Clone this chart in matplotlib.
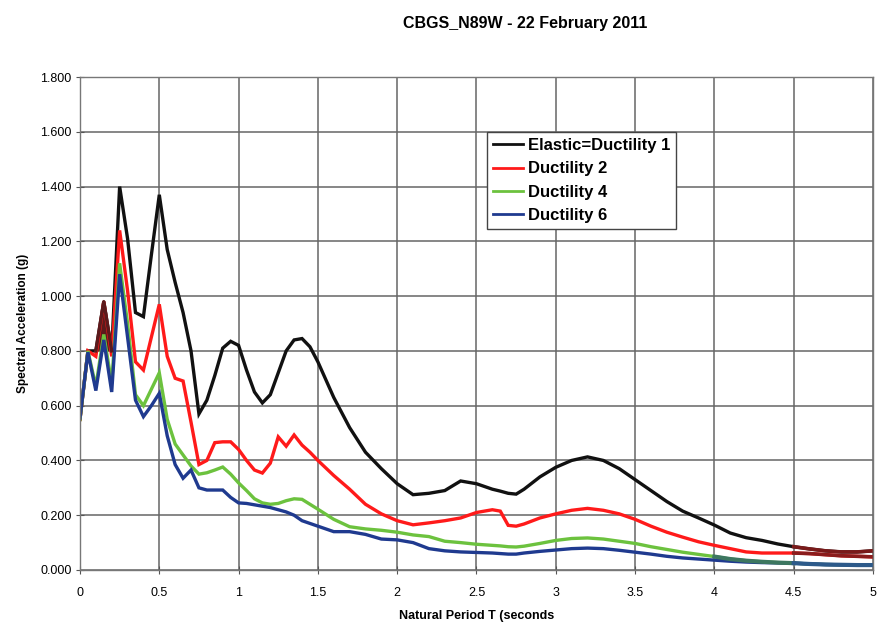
import numpy as np
import matplotlib
matplotlib.use("Agg")
import matplotlib.pyplot as plt
from matplotlib.ticker import FuncFormatter

plt.rcParams["font.family"] = ["Liberation Sans", "DejaVu Sans"]

# natural period (s)
periods = [0.00, 0.05, 0.10, 0.15, 0.20, 0.25, 0.30, 0.35, 0.40, 0.45,
           0.50, 0.55, 0.60, 0.65, 0.70, 0.75, 0.80, 0.85, 0.90, 0.95,
           1.00, 1.05, 1.10, 1.15, 1.20, 1.25, 1.30, 1.35, 1.40, 1.45,
           1.50, 1.6, 1.7, 1.8, 1.9, 2.0, 2.1, 2.2, 2.3, 2.4,
           2.5, 2.6, 2.65, 2.7, 2.75, 2.8, 2.9, 3.0, 3.1, 3.2,
           3.3, 3.4, 3.5, 3.6, 3.7, 3.8, 3.9, 4.0, 4.1, 4.2,
           4.3, 4.4, 4.5, 4.6, 4.7, 4.8, 4.9, 5.0]

# spectral acceleration (g)
elastic = [0.55, 0.80, 0.80, 0.98, 0.80, 1.40, 1.21, 0.94, 0.925, 1.15,
           1.37, 1.17, 1.05, 0.94, 0.80, 0.57, 0.62, 0.71, 0.81, 0.835,
           0.82, 0.73, 0.65, 0.61, 0.64, 0.72, 0.80, 0.84, 0.845, 0.815,
           0.76, 0.63, 0.52, 0.43, 0.37, 0.315, 0.275, 0.28, 0.29, 0.325,
           0.315, 0.295, 0.288, 0.28, 0.277, 0.295, 0.34, 0.375, 0.40, 0.413,
           0.40, 0.37, 0.33, 0.29, 0.25, 0.215, 0.19, 0.164, 0.135, 0.118,
           0.108, 0.095, 0.085, 0.077, 0.070, 0.066, 0.066, 0.070]

ductility2 = [0.55, 0.80, 0.78, 0.98, 0.78, 1.24, 1.02, 0.76, 0.73, 0.85,
              0.97, 0.78, 0.70, 0.69, 0.54, 0.385, 0.40, 0.465, 0.468, 0.468,
              0.44, 0.40, 0.365, 0.354, 0.39, 0.486, 0.452, 0.493, 0.456, 0.43,
              0.40, 0.345, 0.295, 0.24, 0.205, 0.18, 0.165, 0.172, 0.18, 0.19,
              0.21, 0.22, 0.215, 0.163, 0.16, 0.168, 0.19, 0.205, 0.218, 0.225,
              0.218, 0.205, 0.185, 0.16, 0.138, 0.12, 0.103, 0.09, 0.078, 0.066,
              0.062, 0.062, 0.062, 0.060, 0.056, 0.052, 0.050, 0.048]

ductility4 = [0.55, 0.80, 0.67, 0.86, 0.68, 1.12, 0.90, 0.64, 0.60, 0.66,
              0.72, 0.55, 0.46, 0.42, 0.38, 0.35, 0.355, 0.365, 0.376, 0.35,
              0.318, 0.29, 0.26, 0.245, 0.24, 0.243, 0.253, 0.26, 0.258, 0.24,
              0.222, 0.185, 0.158, 0.15, 0.145, 0.138, 0.128, 0.122, 0.105, 0.10,
              0.094, 0.09, 0.088, 0.085, 0.084, 0.087, 0.097, 0.108, 0.115, 0.117,
              0.113, 0.105, 0.097, 0.085, 0.075, 0.065, 0.057, 0.049, 0.040, 0.034,
              0.030, 0.027, 0.025, 0.022, 0.020, 0.019, 0.018, 0.018]

ductility6 = [0.555, 0.795, 0.655, 0.84, 0.65, 1.08, 0.85, 0.62, 0.56, 0.60,
              0.645, 0.49, 0.385, 0.335, 0.365, 0.30, 0.292, 0.292, 0.292, 0.265,
              0.245, 0.243, 0.238, 0.233, 0.228, 0.22, 0.212, 0.20, 0.18, 0.17,
              0.16, 0.14, 0.14, 0.13, 0.113, 0.11, 0.10, 0.078, 0.07, 0.066,
              0.064, 0.062, 0.06, 0.058, 0.058, 0.062, 0.068, 0.073, 0.078, 0.08,
              0.078, 0.072, 0.065, 0.058, 0.05, 0.044, 0.04, 0.036, 0.032, 0.029,
              0.027, 0.026, 0.025, 0.022, 0.020, 0.019, 0.018, 0.018]

T = np.array(periods)
series = [
    ("Elastic=Ductility 1", elastic, "#111111"),
    ("Ductility 2", ductility2, "#ff1a1a"),
    ("Ductility 4", ductility4, "#6cc23e"),
    ("Ductility 6", ductility6, "#1f3a8f"),
]

fig = plt.figure(figsize=(8.78, 6.25), dpi=100)
ax = fig.add_axes([0.0911, 0.088, 0.9032, 0.7888])

for name, vals, col in series:
    ax.plot(T, vals, color=col, lw=2.4, label=name, solid_joinstyle="miter")

# scan-colour artefacts seen on the original printout
el = np.array(elastic)
tail = T >= 4.5
ax.plot(T[tail], el[tail], color="#7a1a1a", lw=2.6)
ax.plot(T[tail], np.array(ductility2)[tail], color="#8a1c1c", lw=2.6)
mid = (T >= 4.0) & (T <= 4.5)
ax.plot(T[mid], np.array(ductility4)[mid], color="#3d7760", lw=3.0)
ax.plot(T[tail], np.array(ductility6)[tail], color="#2d5a8a", lw=3.0)
peak = (T >= 0.1) & (T <= 0.2)
ax.fill_between(T[peak], el[peak].min(), el[peak], color="#5c1a1c", lw=0)
ax.plot(T[peak], el[peak], color="#5c1a1c", lw=2.4)

ax.set_xlim(0, 5)
ax.set_ylim(0, 1.8)
ax.set_xticks(np.arange(0, 5.01, 0.5))
ax.set_yticks(np.arange(0, 1.801, 0.2))
ax.xaxis.set_major_formatter(FuncFormatter(lambda v, p: f"{v:g}"))
ax.yaxis.set_major_formatter(FuncFormatter(lambda v, p: f"{v:.3f}"))
ax.tick_params(direction="inout", length=6, width=0.8, color="#555555",
               labelsize=9, pad=3)
ax.tick_params(axis="x", pad=9)
ax.grid(True, color="#666666", lw=1.1)
ax.set_axisbelow(True)
for sp in ax.spines.values():
    sp.set_color("#777777")
    sp.set_linewidth(1.0)

ax.set_xlabel("Natural Period T (seconds", fontsize=9, fontweight="bold", labelpad=8)
ax.set_ylabel("Spectral Acceleration (g)", fontsize=8.5, fontweight="bold", labelpad=8)
fig.text(0.598, 0.963, "CBGS_N89W - 22 February 2011", ha="center", va="center",
         fontsize=11.5, fontweight="bold")

leg = ax.legend(loc="upper left", bbox_to_anchor=(0.513, 0.888), fancybox=False,
                framealpha=1, edgecolor="#444444", handlelength=1.8,
                handletextpad=0.3, labelspacing=0.5, borderpad=0.35,
                borderaxespad=0, prop={"weight": "bold", "size": 12})
leg.get_frame().set_linewidth(1.0)
for h in leg.get_lines():
    h.set_linewidth(2.0)

fig.savefig("out.png", dpi=100)
